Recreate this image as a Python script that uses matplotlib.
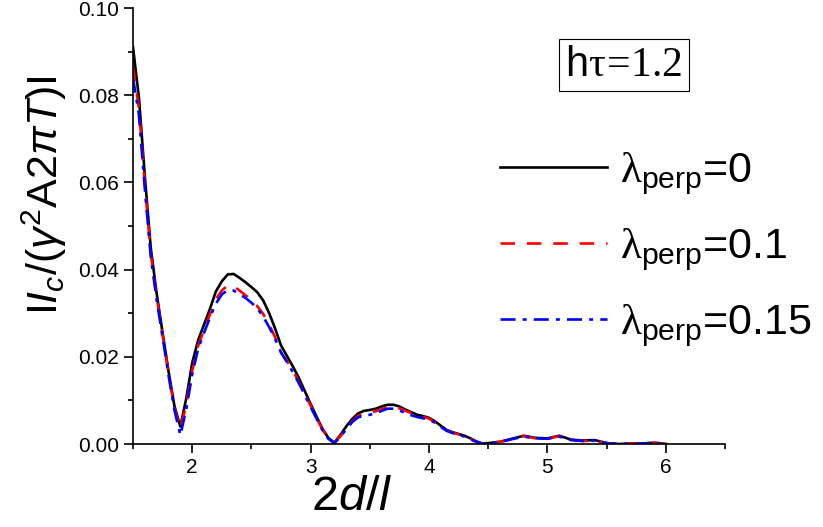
import matplotlib
matplotlib.use("Agg")
import matplotlib.pyplot as plt
from matplotlib.ticker import MultipleLocator, FormatStrFormatter

plt.rcParams['font.family'] = ['Liberation Sans', 'DejaVu Sans']
plt.rcParams['mathtext.fontset'] = 'custom'
plt.rcParams['mathtext.rm'] = 'Liberation Serif'
plt.rcParams['mathtext.sf'] = 'Liberation Sans'
plt.rcParams['mathtext.it'] = 'Liberation Sans:italic'

x = [1.50, 1.55, 1.60, 1.65, 1.70, 1.75, 1.80, 1.85, 1.90, 1.95, 2.00, 2.05, 2.10, 2.15, 2.20,
     2.25, 2.30, 2.35, 2.40, 2.45, 2.50, 2.55, 2.60, 2.65, 2.70, 2.75, 2.80, 2.85, 2.90, 2.95,
     3.00, 3.05, 3.10, 3.15, 3.20, 3.25, 3.30, 3.35, 3.40, 3.45, 3.50, 3.55, 3.60, 3.65, 3.70,
     3.75, 3.80, 3.85, 3.90, 3.95, 4.00, 4.05, 4.10, 4.15, 4.20, 4.25, 4.30, 4.35, 4.40, 4.45,
     4.50, 4.60, 4.70, 4.80, 4.90, 5.00, 5.10, 5.20, 5.30, 5.40, 5.50, 5.60, 5.70, 5.80, 5.90, 6.00]

y_0 = [0.0910, 0.0795, 0.0614, 0.0450, 0.0345, 0.0255, 0.0167, 0.0087, 0.0040, 0.0105, 0.0186,
       0.0238, 0.0274, 0.0310, 0.0350, 0.0373, 0.0389, 0.0390, 0.0381, 0.0371, 0.0360, 0.0348,
       0.0329, 0.0300, 0.0265, 0.0226, 0.0202, 0.0178, 0.0152, 0.0122, 0.0092, 0.0063, 0.0035,
       0.0014, 0.0003, 0.0020, 0.0040, 0.0057, 0.0070, 0.0076, 0.0078, 0.0081, 0.0086, 0.0090,
       0.0090, 0.0086, 0.0079, 0.0073, 0.0067, 0.0064, 0.0060, 0.0052, 0.0042, 0.0032, 0.0027,
       0.0023, 0.0019, 0.0013, 0.0006, 0.0001, 0.0002, 0.0005, 0.0012, 0.0019, 0.0014, 0.0013,
       0.0019, 0.0010, 0.0008, 0.0009, 0.0002, 0.0000, 0.0001, 0.0001, 0.0003, 0.0000]

y_01 = [0.0865, 0.0770, 0.0595, 0.0437, 0.0337, 0.0250, 0.0162, 0.0082, 0.0035, 0.0090, 0.0168,
        0.0225, 0.0262, 0.0297, 0.0332, 0.0352, 0.0364, 0.0362, 0.0352, 0.0341, 0.0330, 0.0316,
        0.0298, 0.0274, 0.0245, 0.0210, 0.0190, 0.0168, 0.0143, 0.0116, 0.0088, 0.0060, 0.0033,
        0.0013, 0.0002, 0.0017, 0.0035, 0.0052, 0.0064, 0.0070, 0.0072, 0.0075, 0.0080, 0.0085,
        0.0086, 0.0082, 0.0076, 0.0071, 0.0066, 0.0062, 0.0058, 0.0050, 0.0040, 0.0031, 0.0026,
        0.0022, 0.0018, 0.0012, 0.0005, 0.0001, 0.0002, 0.0005, 0.0011, 0.0018, 0.0013, 0.0012,
        0.0018, 0.0009, 0.0007, 0.0008, 0.0002, 0.0000, 0.0001, 0.0001, 0.0003, 0.0000]

y_015 = [0.0840, 0.0755, 0.0585, 0.0430, 0.0330, 0.0245, 0.0158, 0.0078, 0.0020, 0.0080, 0.0160,
         0.0218, 0.0255, 0.0290, 0.0322, 0.0343, 0.0353, 0.0352, 0.0343, 0.0335, 0.0324, 0.0311,
         0.0292, 0.0268, 0.0241, 0.0210, 0.0188, 0.0165, 0.0140, 0.0113, 0.0085, 0.0058, 0.0032,
         0.0012, 0.0002, 0.0016, 0.0033, 0.0050, 0.0061, 0.0065, 0.0067, 0.0070, 0.0076, 0.0081,
         0.0081, 0.0077, 0.0071, 0.0066, 0.0062, 0.0059, 0.0056, 0.0049, 0.0039, 0.0030, 0.0025,
         0.0021, 0.0017, 0.0011, 0.0005, 0.0001, 0.0002, 0.0005, 0.0011, 0.0017, 0.0013, 0.0012,
         0.0017, 0.0009, 0.0007, 0.0008, 0.0002, 0.0000, 0.0001, 0.0001, 0.0003, 0.0000]

labels = [r'$\mathrm{\lambda}_{\mathsf{perp}}$=0',
          r'$\mathrm{\lambda}_{\mathsf{perp}}$=0.1',
          r'$\mathrm{\lambda}_{\mathsf{perp}}$=0.15']

fig = plt.figure(figsize=(8.23, 5.27), dpi=100)
ax = fig.add_axes([133/823, 1 - 444/527, 592/823, 436/527])

ax.plot(x, y_0, color='black', lw=1.9, label=labels[0])
ax.plot(x, y_01, color='red', lw=1.9, dashes=(5.5, 4.5), label=labels[1])
ax.plot(x, y_015, color='blue', lw=1.9, dashes=(5.7, 2.7, 1.5, 2.7), label=labels[2])

ax.set_xlim(1.5, 6.5)
ax.set_ylim(0.0, 0.10)
ax.xaxis.set_major_locator(MultipleLocator(1))
ax.xaxis.set_minor_locator(MultipleLocator(0.5))
ax.yaxis.set_major_locator(MultipleLocator(0.02))
ax.yaxis.set_minor_locator(MultipleLocator(0.01))
ax.yaxis.set_major_formatter(FormatStrFormatter('%.2f'))
ax.xaxis.set_major_formatter(FormatStrFormatter('%d'))

for s in ['top', 'right']:
    ax.spines[s].set_visible(False)
for s in ['left', 'bottom']:
    ax.spines[s].set_linewidth(1.2)
ax.tick_params(which='major', direction='out', length=6.5, width=1.2, labelsize=15)
ax.tick_params(which='minor', direction='out', length=3.8, width=1.2)

ax.set_ylabel(r'$\mathsf{I}I_{c}\mathsf{/(}\gamma^{\mathsf{2}}\mathsf{A2}\pi T\mathsf{)I}$', fontsize=31)
ax.yaxis.set_label_coords(-0.108, 0.571)
ax.set_xlabel(r'$\mathsf{2}d\mathsf{/}l$', fontsize=35)
ax.xaxis.set_label_coords(0.37, -0.072)

leg = ax.legend(loc='center left', bbox_to_anchor=(500/823, 1 - 250/527),
                bbox_transform=fig.transFigure, frameon=False, fontsize=31,
                handlelength=2.49, handletextpad=0.3, labelspacing=0.68,
                borderpad=0, borderaxespad=0)

fig.text(624/823, 1 - 65/527, r'h$\mathrm{\tau\!=\!1.2}$', fontsize=30,
         ha='center', va='center',
         bbox=dict(boxstyle='square,pad=0.15', fc='white', ec='black', lw=0.8))

fig.savefig('out.png', dpi=100)
